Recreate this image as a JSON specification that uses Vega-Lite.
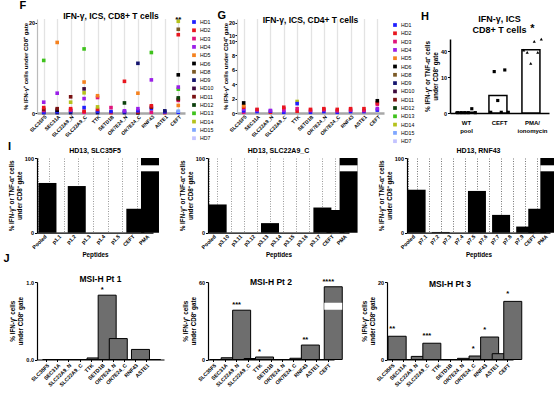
{
"$schema": "https://vega.github.io/schema/vega-lite/v6.json",
"padding": {"left": 3, "top": 0, "right": 0, "bottom": 0},
"background": "white",
"datasets": {
"F": [
{"c":"SLC35F5","d":"HD9","v":0.05},{"c":"SLC35F5","d":"HD1","v":0.1},{"c":"SLC35F5","d":"HD3","v":0.35},{"c":"SLC35F5","d":"HD11","v":0.5},{"c":"SLC35F5","d":"HD2","v":0.75},{"c":"SLC35F5","d":"HD4","v":1.5},{"c":"SLC35F5","d":"HD13","v":7.3},
{"c":"SEC31A","d":"HD9","v":0.05},{"c":"SEC31A","d":"HD1","v":0.2},{"c":"SEC31A","d":"HD6","v":0.4},{"c":"SEC31A","d":"HD11","v":0.6},{"c":"SEC31A","d":"HD4","v":2.75},{"c":"SEC31A","d":"HD5","v":9.8},
{"c":"SLC22A9_N","d":"HD9","v":0.05},{"c":"SLC22A9_N","d":"HD1","v":0.3},{"c":"SLC22A9_N","d":"HD3","v":0.4},{"c":"SLC22A9_N","d":"HD2","v":0.6},{"c":"SLC22A9_N","d":"HD14","v":1.5},{"c":"SLC22A9_N","d":"HD11","v":2.25},
{"c":"SLC22A9_C","d":"HD3","v":0.1},{"c":"SLC22A9_C","d":"HD2","v":0.25},{"c":"SLC22A9_C","d":"HD1","v":0.75},{"c":"SLC22A9_C","d":"HD4","v":2.0},{"c":"SLC22A9_C","d":"HD14","v":2.8},{"c":"SLC22A9_C","d":"HD10","v":3.35},{"c":"SLC22A9_C","d":"HD5","v":4.3},{"c":"SLC22A9_C","d":"HD13","v":8.9},
{"c":"TTK","d":"HD9","v":0.05},{"c":"TTK","d":"HD1","v":0.25},{"c":"TTK","d":"HD2","v":0.5},{"c":"TTK","d":"HD14","v":0.85},{"c":"TTK","d":"HD3","v":2.15},{"c":"TTK","d":"HD5","v":2.4},
{"c":"SETD1B","d":"HD2","v":0.05},{"c":"SETD1B","d":"HD1","v":0.2},{"c":"SETD1B","d":"HD3","v":0.75},
{"c":"OR7E24_N","d":"HD9","v":0.05},{"c":"OR7E24_N","d":"HD1","v":0.2},{"c":"OR7E24_N","d":"HD4","v":0.3},{"c":"OR7E24_N","d":"HD12","v":1.4},{"c":"OR7E24_N","d":"HD2","v":4.4},
{"c":"OR7E24_C","d":"HD6","v":0.02},{"c":"OR7E24_C","d":"HD2","v":0.15},{"c":"OR7E24_C","d":"HD1","v":0.3},{"c":"OR7E24_C","d":"HD4","v":0.6},{"c":"OR7E24_C","d":"HD5","v":2.75},{"c":"OR7E24_C","d":"HD9","v":6.9},
{"c":"RNF43","d":"HD3","v":0.1},{"c":"RNF43","d":"HD1","v":0.6},{"c":"RNF43","d":"HD11","v":0.8},{"c":"RNF43","d":"HD2","v":1.0},{"c":"RNF43","d":"HD4","v":4.6},{"c":"RNF43","d":"HD13","v":8.4},
{"c":"ASTE1","d":"HD2","v":0.05},{"c":"ASTE1","d":"HD1","v":0.15},{"c":"ASTE1","d":"HD9","v":0.3},
{"c":"CEFT","d":"HD1","v":0.1},{"c":"CEFT","d":"HD15","v":0.25},{"c":"CEFT","d":"HD5","v":1.05},{"c":"CEFT","d":"HD3","v":1.75},{"c":"CEFT","d":"HD11","v":1.9},{"c":"CEFT","d":"HD12","v":2.1},{"c":"CEFT","d":"HD13","v":3.3},{"c":"CEFT","d":"HD4","v":3.6},{"c":"CEFT","d":"HD6","v":5.3},{"c":"CEFT","d":"HD2","v":10.25},{"c":"CEFT","d":"HD8","v":14.75},{"c":"CEFT","d":"HD14","v":21.4}
],
"G": [
{"c":"SLC35F5","d":"HD3","v":0.1},{"c":"SLC35F5","d":"HD1","v":0.3},{"c":"SLC35F5","d":"HD4","v":0.55},{"c":"SLC35F5","d":"HD2","v":0.8},{"c":"SLC35F5","d":"HD5","v":1.0},{"c":"SLC35F5","d":"HD6","v":1.4},
{"c":"SEC31A","d":"HD1","v":0.2},{"c":"SEC31A","d":"HD4","v":0.4},{"c":"SEC31A","d":"HD2","v":0.5},
{"c":"SLC22A9_N","d":"HD2","v":0.1},{"c":"SLC22A9_N","d":"HD1","v":0.25},{"c":"SLC22A9_N","d":"HD4","v":0.35},
{"c":"SLC22A9_C","d":"HD1","v":0.1},{"c":"SLC22A9_C","d":"HD4","v":0.35},{"c":"SLC22A9_C","d":"HD3","v":0.6},{"c":"SLC22A9_C","d":"HD2","v":0.8},
{"c":"TTK","d":"HD2","v":0.25},{"c":"TTK","d":"HD3","v":0.6},{"c":"TTK","d":"HD14","v":1.6},{"c":"TTK","d":"HD1","v":1.3},
{"c":"SETD1B","d":"HD1","v":0.1},{"c":"SETD1B","d":"HD3","v":0.35},{"c":"SETD1B","d":"HD2","v":0.5},
{"c":"OR7E24_N","d":"HD1","v":0.2},{"c":"OR7E24_N","d":"HD3","v":0.45},{"c":"OR7E24_N","d":"HD2","v":0.6},
{"c":"OR7E24_C","d":"HD1","v":0.1},{"c":"OR7E24_C","d":"HD3","v":0.3},{"c":"OR7E24_C","d":"HD2","v":0.5},
{"c":"RNF43","d":"HD1","v":0.2},{"c":"RNF43","d":"HD3","v":0.4},{"c":"RNF43","d":"HD2","v":0.6},
{"c":"ASTE1","d":"HD1","v":0.2},{"c":"ASTE1","d":"HD3","v":0.35},{"c":"ASTE1","d":"HD2","v":0.6},
{"c":"CEFT","d":"HD1","v":0.4},{"c":"CEFT","d":"HD4","v":0.6},{"c":"CEFT","d":"HD3","v":1.2},{"c":"CEFT","d":"HD2","v":1.4},{"c":"CEFT","d":"HD6","v":1.7}
],
"Hbar": [{"c":"WT pool","v":0.2},{"c":"CEFT","v":4.9},{"c":"PMA/ionomycin","v":43}],
"Hpt": [
{"c":"WT pool","r":1,"v":0.1},{"c":"WT pool","r":2,"v":0.1},{"c":"WT pool","r":3,"v":0.1},{"c":"WT pool","r":4,"v":0.1},{"c":"WT pool","r":5,"v":1.2},{"c":"WT pool","r":6,"v":0.1},
{"c":"CEFT","r":1,"v":0.2},{"c":"CEFT","r":2,"v":11.6},{"c":"CEFT","r":3,"v":3.5},{"c":"CEFT","r":4,"v":0.2},{"c":"CEFT","r":5,"v":12.7},{"c":"CEFT","r":6,"v":0.2},
{"c":"PMA/ionomycin","r":1,"v":42.3},{"c":"PMA/ionomycin","r":2,"v":36.6},{"c":"PMA/ionomycin","r":3,"v":17.1},{"c":"PMA/ionomycin","r":4,"v":63.8},{"c":"PMA/ionomycin","r":5,"v":36.6},{"c":"PMA/ionomycin","r":6,"v":69.5}
],
"I1": [{"p":"Pooled","v":40.5},{"p":"p1.1","v":0},{"p":"p1.2","v":38},{"p":"p1.3","v":0},{"p":"p1.4","v":0},{"p":"p1.5","v":0},{"p":"CEFT","v":19.5},{"p":"PMA","v":100}],
"I2": [{"p":"Pooled","v":23},{"p":"p3.10","v":0},{"p":"p3.11","v":0},{"p":"p3.12","v":0},{"p":"p3.13","v":7.8},{"p":"p3.14","v":0},{"p":"p3.15","v":0},{"p":"p3.16","v":0},{"p":"p3.17","v":20.5},{"p":"CEFT","v":18.5},{"p":"PMA","v":100}],
"I3": [{"p":"Pooled","v":35},{"p":"p7.1","v":0},{"p":"p7.2","v":0.6},{"p":"p7.3","v":0},{"p":"p7.4","v":0},{"p":"p7.5","v":34},{"p":"p7.6","v":0},{"p":"p7.7","v":14.5},{"p":"p7.8","v":0},{"p":"p7.9","v":5},{"p":"CEFT","v":19.5},{"p":"PMA","v":100}],
"J1": [{"c":"SLC35F5","v":0,"s":""},{"c":"SEC31A","v":0,"s":""},{"c":"SLC22A9_N","v":0,"s":""},{"c":"SLC22A9_C","v":0,"s":""},{"c":"TTK","v":0.02,"s":""},{"c":"SETD1B","v":0.83,"s":"*"},{"c":"OR7E24_N","v":0.27,"s":""},{"c":"OR7E24_C","v":0,"s":""},{"c":"RNF43","v":0.13,"s":""},{"c":"ASTE1","v":0,"s":""}],
"J2": [{"c":"SLC35F5","v":0,"s":""},{"c":"SEC31A","v":0.7,"s":""},{"c":"SLC22A9_N","v":19.8,"s":"***"},{"c":"SLC22A9_C","v":0.4,"s":""},{"c":"TTK","v":1.0,"s":"*"},{"c":"SETD1B","v":0,"s":""},{"c":"OR7E24_N","v":0,"s":""},{"c":"OR7E24_C","v":0.5,"s":""},{"c":"RNF43","v":5.8,"s":"**"},{"c":"ASTE1","v":0,"s":""},{"c":"CEFT","v":47,"s":"****"}],
"J3": [{"c":"SLC35F5","v":6.0,"s":"**"},{"c":"SEC31A","v":0,"s":""},{"c":"SLC22A9_N","v":0.8,"s":""},{"c":"SLC22A9_C","v":4.2,"s":"***"},{"c":"TTK","v":0,"s":""},{"c":"SETD1B","v":0,"s":""},{"c":"OR7E24_N","v":0.3,"s":""},{"c":"OR7E24_C","v":0.9,"s":"*"},{"c":"RNF43","v":5.8,"s":"*"},{"c":"ASTE1","v":1.5,"s":""},{"c":"CEFT","v":15,"s":"*"}]
},
"vconcat": [
{
"hconcat": [
{
"title": {"text": "F", "anchor": "start", "frame": "bounds", "fontSize": 11, "offset": 1, "dx": -3},
"vconcat": [
{
"width": 148, "height": 94,
"title": {"text": "IFN-γ, ICS, CD8+ T cells", "offset": -5},
"layer": [
{"data": {"name": "F"}, "mark": {"type": "square", "size": 13, "opacity": 1},
"encoding": {
"x": {"field": "c", "type": "nominal", "sort": ["SLC35F5","SEC31A","SLC22A9_N","SLC22A9_C","TTK","SETD1B","OR7E24_N","OR7E24_C","RNF43","ASTE1","CEFT"], "scale": {"paddingInner": 0, "paddingOuter": 0.05},
"axis": {"title": null, "grid": true, "gridColor": "#c8c8c8", "gridDash": [1, 1], "gridWidth": 1.3, "ticks": false, "domainColor": "#a8a8a8", "domainWidth": 2.5, "labelFontSize": 5}},
"y": {"field": "v", "type": "quantitative", "scale": {"domain": [0, 10, 10.001, 23.3], "range": [94, 22, 16, 0], "nice": false, "zero": false},
"axis": {"values": [0, 2, 4, 6, 8, 10, 10.001, 20], "format": ".0f", "labelOverlap": false, "title": "% IFN-γ⁺ cells under CD8⁺ gate", "titleFontSize": 6, "titlePadding": 0, "tickSize": 2, "labelPadding": 0.5, "domainColor": "#bbbbbb"}},
"color": {"field": "d", "type": "nominal", "scale": {"domain": ["HD1","HD2","HD3","HD4","HD5","HD6","HD8","HD9","HD10","HD11","HD12","HD13","HD14","HD15","HD7"], "range": ["#1f1fff","#e8161e","#e0147c","#9b1fe8","#f5821f","#000000","#7b5a26","#14146e","#3c0a3c","#7a1212","#0c400c","#3fc21c","#b5c21c","#7ea6ff","#c3c3ff"]},
"legend": {"title": null, "symbolType": "square", "symbolSize": 14, "labelFontSize": 5.2, "rowPadding": 1.3, "offset": 6, "labelOffset": 3, "padding": 0}}
}},
{"data": {"values": [{"c": "CEFT", "s": "**"}]}, "mark": {"type": "text", "fontWeight": "bold", "fontSize": 8, "baseline": "alphabetic", "dy": 2.6},
"encoding": {"x": {"field": "c", "type": "nominal", "sort": ["SLC35F5","SEC31A","SLC22A9_N","SLC22A9_C","TTK","SETD1B","OR7E24_N","OR7E24_C","RNF43","ASTE1","CEFT"]}, "y": {"datum": 23.3, "type": "quantitative"}, "text": {"field": "s"}}}
]
}
],
"resolve": {"scale": {"color": "independent"}, "legend": {"color": "independent"}}
},
{
"title": {"text": "G", "anchor": "start", "frame": "bounds", "fontSize": 11, "offset": -5, "dx": -5},
"vconcat": [
{
"width": 147, "height": 94,
"title": {"text": "IFN-γ, ICS, CD4+ T cells", "offset": -5},
"layer": [
{"data": {"name": "G"}, "mark": {"type": "square", "size": 13, "opacity": 1},
"encoding": {
"x": {"field": "c", "type": "nominal", "sort": ["SLC35F5","SEC31A","SLC22A9_N","SLC22A9_C","TTK","SETD1B","OR7E24_N","OR7E24_C","RNF43","ASTE1","CEFT"], "scale": {"paddingInner": 0, "paddingOuter": 0.05},
"axis": {"title": null, "grid": true, "gridColor": "#c8c8c8", "gridDash": [1, 1], "gridWidth": 1.3, "ticks": false, "domainColor": "#a8a8a8", "domainWidth": 2.5, "labelFontSize": 5}},
"y": {"field": "v", "type": "quantitative", "scale": {"domain": [0, 10, 10.001, 23.3], "range": [94, 22, 16, 0], "nice": false, "zero": false},
"axis": {"values": [0, 2, 4, 6, 8, 10, 10.001, 20], "format": ".0f", "labelOverlap": false, "title": "% IFN-γ⁺ cells under CD4⁺ gate", "titleFontSize": 6, "titlePadding": 0, "tickSize": 2, "labelPadding": 0.5, "domainColor": "#bbbbbb"}},
"color": {"field": "d", "type": "nominal", "scale": {"domain": ["HD1","HD2","HD3","HD4","HD5","HD6","HD8","HD9","HD10","HD11","HD12","HD13","HD14","HD15","HD7"], "range": ["#1f1fff","#e8161e","#e0147c","#9b1fe8","#f5821f","#000000","#7b5a26","#14146e","#3c0a3c","#7a1212","#0c400c","#3fc21c","#b5c21c","#7ea6ff","#c3c3ff"]},
"legend": {"title": null, "symbolType": "square", "symbolSize": 14, "labelFontSize": 5.2, "rowPadding": 1.3, "offset": 5, "labelOffset": 3, "padding": 3}}
}}
]
}
],
"resolve": {"scale": {"color": "independent"}, "legend": {"color": "independent"}}
},
{
"title": {"text": "H", "anchor": "start", "frame": "bounds", "fontSize": 11, "offset": -7, "dx": -3},
"vconcat": [
{
"width": 99, "height": 94,
"title": {"text": ["IFN-γ, ICS", "CD8+ T cells"], "fontSize": 9, "offset": -16, "lineHeight": 11},
"layer": [
{"data": {"name": "Hbar"}, "mark": {"type": "bar", "fill": "white", "stroke": "black", "strokeWidth": 1.5},
"encoding": {
"x": {"field": "c", "type": "nominal", "sort": ["WT pool", "CEFT", "PMA/ionomycin"], "scale": {"paddingInner": 0.36, "paddingOuter": 0.18},
"axis": {"title": null, "labelAngle": 0, "ticks": false, "labelFontSize": 6, "labelPadding": 6, "domainWidth": 1.5, "labelExpr": "datum.value == 'WT pool' ? ['WT', 'pool'] : datum.value == 'PMA/ionomycin' ? ['PMA/', 'ionomycin'] : datum.value"}},
"y": {"field": "v", "type": "quantitative", "scale": {"domain": [0, 10, 10.001, 20, 70], "range": [94, 58.3, 55, 40, 20], "nice": false, "zero": false},
"axis": {"values": [0, 5, 10, 20, 40, 60], "labelOverlap": false, "domainWidth": 1.5, "title": ["% IFN-γ⁺ or TNF-α⁺ cells", "under CD8⁺ gate"]}}
}},
{"data": {"name": "Hpt"}, "mark": {"type": "point", "filled": true, "color": "black", "size": 10, "opacity": 1},
"encoding": {
"x": {"field": "c", "type": "nominal", "sort": ["WT pool", "CEFT", "PMA/ionomycin"]},
"xOffset": {"field": "r", "type": "nominal"},
"y": {"field": "v", "type": "quantitative"},
"shape": {"field": "c", "type": "nominal", "scale": {"domain": ["WT pool", "CEFT", "PMA/ionomycin"], "range": ["square", "square", "triangle-up"]}, "legend": null}
}},
{"data": {"values": [{"c": "PMA/ionomycin", "s": "*"}]}, "mark": {"type": "text", "fontWeight": "bold", "fontSize": 11, "baseline": "alphabetic", "dy": -7},
"encoding": {"x": {"field": "c", "type": "nominal", "sort": ["WT pool", "CEFT", "PMA/ionomycin"]}, "y": {"datum": 70, "type": "quantitative"}, "text": {"field": "s"}}}
]
}
]
}
],
"spacing": 3,
"resolve": {"scale": {"color": "independent"}, "legend": {"color": "independent"}}
},
{
"title": {"text": "I", "anchor": "start", "frame": "bounds", "fontSize": 11, "offset": -5},
"hconcat": [
{
"width": 116, "height": 74.7, "data": {"name": "I1"},
"title": {"text": "HD13, SLC35F5", "fontSize": 7, "offset": 2},
"layer": [
{"mark": {"type": "bar", "color": "black"},
"encoding": {
"x": {"field": "p", "type": "nominal", "sort": null, "scale": {"paddingInner": 0.28, "paddingOuter": 0.1},
"axis": {"title": "Peptides", "grid": true, "tickBand": "extent", "gridDash": [1, 1.5], "gridColor": "#999999", "gridWidth": 1, "ticks": false, "labelFontSize": 5.3}},
"y": {"field": "v", "type": "quantitative", "scale": {"domain": [0, 50, 50.001, 100], "range": [74.7, 13.3, 7.3, 0], "nice": false, "zero": false},
"axis": {"values": [0, 10, 20, 30, 40, 50, 50.001, 100], "format": ".0f", "labelOverlap": false, "title": ["% IFN-γ⁺ or TNF-α⁺ cells", "under CD8⁺ gate"]}}
}},
{"transform": [{"filter": "datum.v > 50"}], "mark": {"type": "bar", "color": "white"},
"encoding": {"x": {"field": "p", "type": "nominal", "sort": null}, "y": {"datum": 50, "type": "quantitative"}, "y2": {"datum": 50.001}}}
]
},
{
"width": 141, "height": 74.7, "data": {"name": "I2"},
"title": {"text": "HD13, SLC22A9_C", "fontSize": 7, "offset": 2},
"layer": [
{"mark": {"type": "bar", "color": "black"},
"encoding": {
"x": {"field": "p", "type": "nominal", "sort": null, "scale": {"paddingInner": 0.33, "paddingOuter": 0.05},
"axis": {"title": "Peptides", "grid": true, "tickBand": "extent", "gridDash": [1, 1.5], "gridColor": "#999999", "gridWidth": 1, "ticks": false, "labelFontSize": 5.3}},
"y": {"field": "v", "type": "quantitative", "scale": {"domain": [0, 50, 50.001, 100], "range": [74.7, 13.3, 7.3, 0], "nice": false, "zero": false},
"axis": {"values": [0, 10, 20, 30, 40, 50, 50.001, 100], "format": ".0f", "labelOverlap": false, "title": ["% IFN-γ⁺ or TNF-α⁺ cells", "under CD8⁺ gate"]}}
}},
{"transform": [{"filter": "datum.v > 50"}], "mark": {"type": "bar", "color": "white"},
"encoding": {"x": {"field": "p", "type": "nominal", "sort": null}, "y": {"datum": 50, "type": "quantitative"}, "y2": {"datum": 50.001}}}
]
},
{
"width": 143, "height": 74.7, "data": {"name": "I3"},
"title": {"text": "HD13, RNF43", "fontSize": 7, "offset": 2},
"layer": [
{"mark": {"type": "bar", "color": "black"},
"encoding": {
"x": {"field": "p", "type": "nominal", "sort": null, "scale": {"paddingInner": 0.25, "paddingOuter": 0.05},
"axis": {"title": "Peptides", "grid": true, "tickBand": "extent", "gridDash": [1, 1.5], "gridColor": "#777777", "gridWidth": 1, "ticks": false, "labelFontSize": 5.3}},
"y": {"field": "v", "type": "quantitative", "scale": {"domain": [0, 50, 50.001, 100], "range": [74.7, 13.3, 7.3, 0], "nice": false, "zero": false},
"axis": {"values": [0, 10, 20, 30, 40, 50, 50.001, 100], "format": ".0f", "labelOverlap": false, "title": ["% IFN-γ⁺ or TNF-α⁺ cells", "under CD8⁺ gate"]}}
}},
{"transform": [{"filter": "datum.v > 50"}], "mark": {"type": "bar", "color": "white"},
"encoding": {"x": {"field": "p", "type": "nominal", "sort": null}, "y": {"datum": 50, "type": "quantitative"}, "y2": {"datum": 50.001}}}
]
}
],
"spacing": 20
},
{
"title": {"text": "J", "anchor": "start", "frame": "bounds", "fontSize": 11, "offset": 11, "dx": -6},
"hconcat": [
{
"width": 127, "height": 77.5, "data": {"name": "J1"},
"title": {"text": "MSI-H Pt 1", "offset": -3},
"layer": [
{"mark": {"type": "bar", "fill": "#6e6e6e", "stroke": "black", "strokeWidth": 1},
"encoding": {
"x": {"field": "c", "type": "nominal", "sort": null, "scale": {"paddingInner": 0.26, "paddingOuter": 0.85, "align": 0.3},
"axis": {"title": null, "labelFontSize": 5.3, "tickSize": 2}},
"y": {"field": "v", "type": "quantitative", "scale": {"domain": [0, 1], "nice": false},
"axis": {"values": [0, 0.2, 0.4, 0.6, 0.8, 1.0], "format": ".1f", "title": ["% IFN-γ⁺ cells", "under CD8⁺ gate"]}}
}},
{"mark": {"type": "text", "fontWeight": "bold", "fontSize": 7.5, "baseline": "alphabetic", "dy": -3},
"encoding": {"x": {"field": "c", "type": "nominal", "sort": null}, "y": {"field": "v", "type": "quantitative"}, "text": {"field": "s"}}}
]
},
{
"width": 126, "height": 77.5, "data": {"name": "J2"},
"title": {"text": "MSI-H Pt 2", "offset": -9},
"layer": [
{"mark": {"type": "bar", "fill": "#6e6e6e", "stroke": "black", "strokeWidth": 1},
"encoding": {
"x": {"field": "c", "type": "nominal", "sort": null, "scale": {"paddingInner": 0.3, "paddingOuter": 0.15},
"axis": {"title": null, "labelFontSize": 5.3, "tickSize": 2}},
"y": {"field": "v", "type": "quantitative", "scale": {"domain": [0, 20, 20.001, 30, 60], "range": [77.5, 27.7, 20.7, 11, 0], "nice": false, "zero": false},
"axis": {"values": [0, 5, 10, 15, 20, 30, 40, 50, 60], "labelOverlap": false, "title": ["% IFN-γ⁺ cells", "under CD8⁺ gate"]}}
}},
{"transform": [{"filter": "datum.v > 20"}], "mark": {"type": "bar", "color": "white"},
"encoding": {"x": {"field": "c", "type": "nominal", "sort": null}, "y": {"datum": 20, "type": "quantitative"}, "y2": {"datum": 20.001}}},
{"mark": {"type": "text", "fontWeight": "bold", "fontSize": 7.5, "baseline": "alphabetic", "dy": -3},
"encoding": {"x": {"field": "c", "type": "nominal", "sort": null}, "y": {"field": "v", "type": "quantitative"}, "text": {"field": "s"}}}
]
},
{
"width": 126, "height": 77.5, "data": {"name": "J3"},
"title": {"text": "MSI-H Pt 3", "offset": -8},
"layer": [
{"mark": {"type": "bar", "fill": "#6e6e6e", "stroke": "black", "strokeWidth": 1},
"encoding": {
"x": {"field": "c", "type": "nominal", "sort": null, "scale": {"paddingInner": 0.3, "paddingOuter": 0.1},
"axis": {"title": null, "labelFontSize": 5.3, "tickSize": 2}},
"y": {"field": "v", "type": "quantitative", "scale": {"domain": [0, 20], "nice": false},
"axis": {"values": [0, 5, 10, 15, 20], "title": ["% IFN-γ⁺ cells", "under CD8⁺ gate"]}}
}},
{"mark": {"type": "text", "fontWeight": "bold", "fontSize": 7.5, "baseline": "alphabetic", "dy": -5},
"encoding": {"x": {"field": "c", "type": "nominal", "sort": null}, "y": {"field": "v", "type": "quantitative"}, "text": {"field": "s"}}}
]
}
],
"spacing": 18
}
],
"spacing": -7,
"resolve": {"scale": {"color": "independent"}, "legend": {"color": "independent"}},
"config": {
"font": "Liberation Sans",
"view": {"stroke": null},
"axis": {"labelFontWeight": "bold", "titleFontWeight": "bold", "labelFontSize": 5.5, "titleFontSize": 6.3, "labelColor": "#000", "titleColor": "#000", "domainColor": "#000", "tickColor": "#000", "domainWidth": 1.2, "tickWidth": 1, "tickSize": 2.5, "labelPadding": 1, "titlePadding": 2, "grid": false},
"axisX": {"labelAngle": -45},
"title": {"fontWeight": "bold", "fontSize": 8.5, "color": "#000"},
"legend": {"labelColor": "#000"}
}
}
